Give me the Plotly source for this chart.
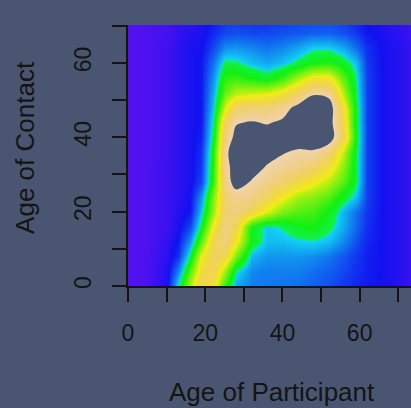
import colorsys
import plotly.graph_objects as go

# Age grid (years) at which the contact intensity is given
age_participant = [0, 5, 10, 13, 16, 19, 22, 25, 28, 32, 36, 40, 44, 48, 52, 56, 59, 62, 66, 70, 75]
age_contact = [0, 4, 8, 12, 16, 20, 24, 28, 32, 36, 40, 44, 48, 52, 56, 60, 64, 68, 72]

# Relative contact intensity, one row per age of contact (values above 1 lie outside the colour range)
c00 = [0, 0.01, 0.07, 0.33, 0.62, 0.82, 0.75, 0.45, 0.27, 0.22, 0.21, 0.21, 0.2, 0.18, 0.16, 0.13, 0.11, 0.09, 0.08, 0.06, 0.02]
c04 = [0, 0.01, 0.06, 0.22, 0.5, 0.76, 0.82, 0.6, 0.34, 0.23, 0.22, 0.22, 0.22, 0.2, 0.18, 0.15, 0.12, 0.1, 0.08, 0.06, 0.02]
c08 = [0, 0.01, 0.05, 0.12, 0.36, 0.68, 0.84, 0.8, 0.55, 0.29, 0.25, 0.25, 0.25, 0.24, 0.21, 0.17, 0.13, 0.1, 0.08, 0.06, 0.02]
c12 = [0, 0.01, 0.04, 0.09, 0.24, 0.5, 0.8, 0.9, 0.72, 0.4, 0.3, 0.3, 0.32, 0.33, 0.3, 0.23, 0.16, 0.11, 0.08, 0.06, 0.02]
c16 = [0, 0.01, 0.03, 0.07, 0.15, 0.38, 0.7, 0.92, 0.8, 0.4, 0.31, 0.34, 0.4, 0.42, 0.36, 0.27, 0.19, 0.12, 0.08, 0.06, 0.02]
c20 = [0, 0.01, 0.03, 0.06, 0.09, 0.3, 0.58, 0.87, 0.9, 0.8, 0.66, 0.55, 0.5, 0.48, 0.4, 0.28, 0.2, 0.13, 0.08, 0.06, 0.02]
c24 = [0, 0.01, 0.03, 0.05, 0.08, 0.24, 0.55, 0.86, 0.94, 0.92, 0.82, 0.7, 0.6, 0.56, 0.5, 0.38, 0.3, 0.14, 0.08, 0.06, 0.02]
c28 = [0, 0.01, 0.03, 0.05, 0.07, 0.15, 0.45, 0.92, 1.06, 0.99, 0.92, 0.86, 0.78, 0.7, 0.62, 0.5, 0.36, 0.14, 0.08, 0.06, 0.02]
c32 = [0, 0.01, 0.03, 0.05, 0.07, 0.13, 0.44, 0.93, 1.08, 1.06, 0.99, 0.95, 0.91, 0.86, 0.74, 0.56, 0.37, 0.14, 0.08, 0.06, 0.02]
c36 = [0, 0.01, 0.025, 0.05, 0.07, 0.12, 0.42, 0.95, 1.1, 1.1, 1.05, 1.01, 0.98, 0.98, 0.88, 0.62, 0.37, 0.14, 0.08, 0.06, 0.02]
c40 = [0, 0.01, 0.025, 0.05, 0.07, 0.1, 0.37, 0.9, 1.04, 1.08, 1.06, 1.05, 1.08, 1.12, 1.1, 0.8, 0.4, 0.14, 0.08, 0.06, 0.02]
c44 = [0, 0.01, 0.025, 0.05, 0.07, 0.09, 0.34, 0.82, 0.99, 1.01, 0.99, 1.02, 1.1, 1.14, 1.08, 0.76, 0.38, 0.14, 0.08, 0.06, 0.02]
c48 = [0, 0.01, 0.025, 0.05, 0.07, 0.09, 0.3, 0.66, 0.86, 0.88, 0.88, 0.94, 1.04, 1.14, 1.1, 0.72, 0.38, 0.14, 0.08, 0.06, 0.02]
c52 = [0, 0.01, 0.025, 0.05, 0.07, 0.09, 0.27, 0.52, 0.62, 0.64, 0.66, 0.72, 0.84, 0.97, 0.94, 0.6, 0.36, 0.14, 0.08, 0.06, 0.02]
c56 = [0, 0.01, 0.025, 0.05, 0.07, 0.09, 0.24, 0.45, 0.46, 0.42, 0.38, 0.46, 0.6, 0.72, 0.72, 0.5, 0.34, 0.14, 0.08, 0.06, 0.02]
c60 = [0, 0.01, 0.025, 0.05, 0.07, 0.09, 0.2, 0.36, 0.35, 0.3, 0.27, 0.3, 0.36, 0.42, 0.44, 0.38, 0.3, 0.13, 0.08, 0.06, 0.02]
c64 = [0, 0.01, 0.025, 0.05, 0.07, 0.08, 0.15, 0.24, 0.25, 0.23, 0.21, 0.23, 0.27, 0.32, 0.32, 0.27, 0.2, 0.12, 0.08, 0.06, 0.02]
c68 = [0, 0.01, 0.02, 0.04, 0.06, 0.07, 0.11, 0.15, 0.16, 0.15, 0.15, 0.16, 0.17, 0.18, 0.18, 0.16, 0.13, 0.09, 0.07, 0.05, 0.02]
c72 = [0, 0.01, 0.02, 0.04, 0.05, 0.06, 0.09, 0.12, 0.13, 0.12, 0.12, 0.13, 0.14, 0.15, 0.15, 0.13, 0.11, 0.08, 0.06, 0.05, 0.02]
intensity = [c00, c04, c08, c12, c16, c20, c24, c28, c32, c36, c40, c44, c48, c52, c56, c60, c64, c68, c72]

x_ticks = [0, 10, 20, 30, 40, 50, 60, 70]
x_labels = ["0", "", "20", "", "40", "", "60", ""]
y_ticks = [0, 10, 20, 30, 40, 50, 60, 70]
y_labels = ["0", "", "20", "", "40", "", "60", ""]

BG = "#4a5671"
INK = "#141414"
FONT = "Liberation Sans, Arial, Helvetica, sans-serif"


def hsv_hex(h, s=1.0, v=1.0):
    # slightly muted, as the colours appear on the slide
    r, g, b = colorsys.hsv_to_rgb(h % 1.0, s * 0.93, v * 0.94)
    return "#%02x%02x%02x" % (round(r * 255), round(g * 255), round(b * 255))


def topo_scale(n=24):
    """Continuous version of R's topo.colors: three hue ramps with jumps between them."""
    stops = []
    third = 1.0 / 3.0
    for i in range(n + 1):
        t = i / n
        stops.append([t * third, hsv_hex((43 - 12 * t) / 60)])
    for i in range(n + 1):
        t = i / n
        stops.append([third + t * third, hsv_hex((23 - 12 * t) / 60)])
    for i in range(n + 1):
        t = i / n
        stops.append([2 * third + t * third, hsv_hex((10 - 4 * t) / 60, 1 - 0.7 * t)])
    stops[-1][0] = 1.0
    return stops


fig = go.Figure()
fig.add_trace(go.Heatmap(
    x=age_participant, y=age_contact, z=intensity,
    zmin=0, zmax=1, zsmooth="best",
    colorscale=topo_scale(), showscale=False, hoverinfo="skip",
))
# values above the colour range are left uncoloured: the constraint keeps z <= 1,
# so the excluded region (z > 1) gets the background fill
fig.add_trace(go.Contour(
    x=age_participant, y=age_contact, z=intensity,
    contours=dict(type="constraint", operation="<", value=1),
    fillcolor=BG, line=dict(width=0, color=BG),
    showscale=False, hoverinfo="skip",
))

axis_common = dict(
    showgrid=False, zeroline=False, showline=True, linecolor=INK, linewidth=1.5,
    ticks="outside", ticklen=14, tickwidth=1.5, tickcolor=INK,
    tickfont=dict(family=FONT, size=23, color=INK),
)
fig.update_xaxes(range=[0, 73.3], tickvals=x_ticks, ticktext=x_labels,
                 ticklabelstandoff=12, **axis_common)
fig.update_yaxes(range=[0, 70.2], tickvals=y_ticks, ticktext=y_labels,
                 tickangle=-90, ticklabelstandoff=12, **axis_common)

fig.add_annotation(text="Age of Participant", xref="paper", yref="paper",
                   x=0.509, y=-0.406, xanchor="center", yanchor="middle",
                   showarrow=False, font=dict(family=FONT, size=26, color=INK))
fig.add_annotation(text="Age of Contact", xref="paper", yref="paper",
                   x=-0.364, y=0.533, xanchor="center", yanchor="middle",
                   showarrow=False, textangle=-90,
                   font=dict(family=FONT, size=26, color=INK))

fig.update_layout(
    width=411, height=408,
    margin=dict(l=128, r=0, t=25, b=122),
    paper_bgcolor=BG, plot_bgcolor=BG,
    showlegend=False,
)

fig.write_html("out.html")
